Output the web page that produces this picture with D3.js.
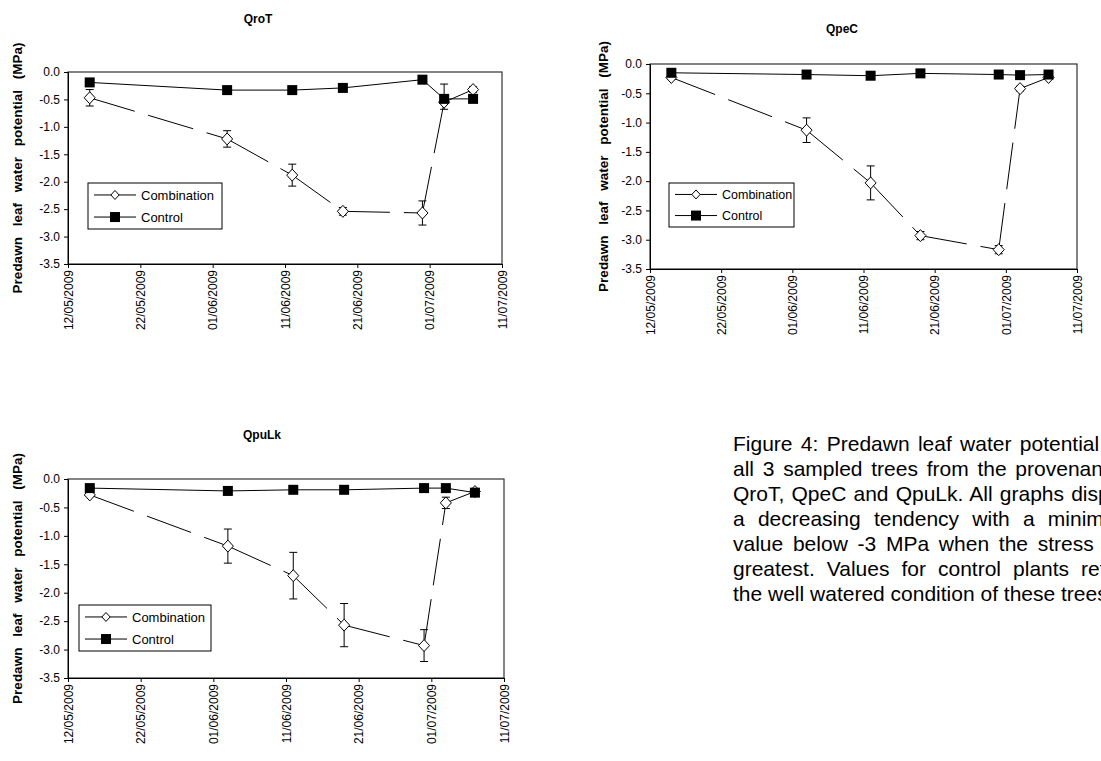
<!DOCTYPE html>
<html>
<head>
<meta charset="utf-8">
<script src="https://cdn.jsdelivr.net/npm/d3@7"></script>
<style>
  html, body { margin: 0; padding: 0; background: #fff; overflow: hidden; width: 1101px; height: 761px; }
  #wrap { position: relative; width: 1101px; height: 761px; overflow: hidden; }
  svg { position: absolute; left: 0; top: 0; }
  .cap { position: absolute; left: 733px; font-family: Arial, "Liberation Sans", sans-serif; font-size: 21px;
         line-height: 25px; white-space: nowrap; color: #000; }
</style>
</head>
<body>
<div id="wrap"></div>
<script>
// ---------------- data ----------------
const sampleDates = ["2009-05-15","2009-06-03","2009-06-12","2009-06-19","2009-06-30","2009-07-03","2009-07-07"];
const xTickDates  = ["2009-05-12","2009-05-22","2009-06-01","2009-06-11","2009-06-21","2009-07-01","2009-07-11"];
const xTickLabels = ["12/05/2009","22/05/2009","01/06/2009","11/06/2009","21/06/2009","01/07/2009","11/07/2009"];
const yTicks = [0, -0.5, -1.0, -1.5, -2.0, -2.5, -3.0, -3.5];
const seriesNames = ["Combination", "Control"];
const chartTitles = ["QroT", "QpeC", "QpuLk"];

const qrotComb        = [-0.47, -1.22, -1.88, -2.54, -2.57, -0.55, -0.32];
const qrotCombErrUp   = [0.15, 0.15, 0.20, 0.07, 0.22, 0.33, 0.05];
const qrotCombErrDown = [0.15, 0.15, 0.20, 0.07, 0.22, 0.13, 0.05];
const qrotControl     = [-0.19, -0.33, -0.33, -0.29, -0.14, -0.49, -0.49];

const qpecComb     = [-0.23, -1.13, -2.03, -2.93, -3.17, -0.42, -0.23];
const qpecCombErr  = [0.03, 0.21, 0.29, 0.07, 0.07, 0.04, 0.03];
const qpecControl  = [-0.15, -0.18, -0.20, -0.16, -0.18, -0.19, -0.18];

const qpulkComb    = [-0.28, -1.18, -1.70, -2.57, -2.93, -0.42, -0.22];
const qpulkCombErr = [0.03, 0.30, 0.41, 0.38, 0.28, 0.10, 0.03];
const qpulkControl = [-0.16, -0.21, -0.19, -0.19, -0.16, -0.16, -0.24];

const captionLines = [
  "Figure 4: Predawn leaf water potential of",
  "all 3 sampled trees from the provenances",
  "QroT, QpeC and QpuLk. All graphs display",
  "a decreasing tendency with a minimum",
  "value below -3 MPa when the stress was",
  "greatest. Values for control plants reflect",
  "the well watered condition of these trees."
];

// ---------------- layout ----------------
const parse = d3.timeParse("%Y-%m-%d");
const W = 1101, H = 761;
const FONT = "Arial, 'Liberation Sans', sans-serif";
const captionWordSpacing = [2.5, 2.9, 1.3, 7.4, 3.9, 6.2, 0];

const layouts = [
  { title: chartTitles[0], comb: qrotComb, errUp: qrotCombErrUp, errDown: qrotCombErrDown, ctrl: qrotControl,
    x0: 68, x1: 502, y0: 72, y1: 264, titleX: 258, titleY: 23, ylabX: 17,
    leg: { x: 88, y: 183, w: 134, h: 46, fs: 13 } },
  { title: chartTitles[1], comb: qpecComb, errUp: qpecCombErr, errDown: qpecCombErr, ctrl: qpecControl,
    x0: 650, x1: 1077, y0: 64, y1: 269, titleX: 842, titleY: 33, ylabX: 603,
    leg: { x: 669, y: 183, w: 125, h: 44, fs: 12.5 } },
  { title: chartTitles[2], comb: qpulkComb, errUp: qpulkCombErr, errDown: qpulkCombErr, ctrl: qpulkControl,
    x0: 68, x1: 504, y0: 479, y1: 678, titleX: 262, titleY: 439, ylabX: 17,
    leg: { x: 79, y: 605, w: 132, h: 46, fs: 13 } }
];

const svg = d3.select("#wrap").append("svg").attr("width", W).attr("height", H);

function diamond(g, cx, cy, r) {
  g.append("path")
    .attr("d", `M${cx},${cy - r}L${cx + r * 0.92},${cy}L${cx},${cy + r}L${cx - r * 0.92},${cy}Z`)
    .attr("fill", "#fff").attr("stroke", "#000").attr("stroke-width", 1);
}
function square(g, cx, cy, s) {
  g.append("rect").attr("x", cx - s / 2).attr("y", cy - s / 2).attr("width", s).attr("height", s).attr("fill", "#000");
}

layouts.forEach(L => {
  const g = svg.append("g");
  const x = d3.scaleTime().domain([parse(xTickDates[0]), parse(xTickDates[xTickDates.length - 1])]).range([L.x0, L.x1]);
  const y = d3.scaleLinear().domain([0, -3.5]).range([L.y0, L.y1]);

  // plot frame
  g.append("rect").attr("x", L.x0).attr("y", L.y0).attr("width", L.x1 - L.x0).attr("height", L.y1 - L.y0)
    .attr("fill", "none").attr("stroke", "#333").attr("stroke-width", 1.2);

  // y axis
  const ya = d3.axisLeft(y).tickValues(yTicks).tickSize(4).tickPadding(4);
  const yg = g.append("g").attr("transform", `translate(${L.x0},0)`).call(ya);
  yg.select(".domain").attr("stroke", "#000");
  yg.selectAll(".tick line").attr("stroke", "#000");
  yg.selectAll("text").attr("font-family", FONT).attr("font-size", 12).attr("fill", "#000")
    .text(d => d === 0 ? "0.0" : "-" + d3.format(".1f")(Math.abs(d)));

  // x axis
  const xa = d3.axisBottom(x).tickValues(xTickDates.map(parse)).tickSize(4).tickFormat((d, i) => xTickLabels[i]);
  const xg = g.append("g").attr("transform", `translate(0,${L.y1})`).call(xa);
  xg.select(".domain").attr("stroke", "#000");
  xg.selectAll(".tick line").attr("stroke", "#000");
  xg.selectAll("text").attr("font-family", FONT).attr("font-size", 12).attr("fill", "#000")
    .attr("transform", "rotate(-90)").attr("text-anchor", "end").attr("x", -6).attr("y", 0).attr("dy", "0.35em");

  // title
  g.append("text").attr("x", L.titleX).attr("y", L.titleY).attr("text-anchor", "middle")
    .attr("font-family", FONT).attr("font-weight", "bold").attr("font-size", 12).text(L.title);

  // y label
  g.append("text").attr("transform", `translate(${L.ylabX},${(L.y0 + L.y1) / 2}) rotate(-90)`)
    .attr("text-anchor", "middle").attr("dy", "0.35em")
    .attr("font-family", FONT).attr("font-weight", "bold").attr("font-size", 13.5).attr("word-spacing", 7)
    .text("Predawn leaf water potential (MPa)");

  const pts = sampleDates.map(parse);

  // control line
  g.append("path").datum(L.ctrl)
    .attr("d", d3.line().x((d, i) => x(pts[i])).y(d => y(d)))
    .attr("fill", "none").attr("stroke", "#000").attr("stroke-width", 1);

  // combination: dashed per segment
  for (let i = 0; i < pts.length - 1; i++) {
    g.append("line").attr("x1", x(pts[i])).attr("y1", y(L.comb[i]))
      .attr("x2", x(pts[i + 1])).attr("y2", y(L.comb[i + 1]))
      .attr("stroke", "#000").attr("stroke-width", 1).attr("stroke-dasharray", "47,14");
  }

  // error bars
  L.comb.forEach((v, i) => {
    const cx = x(pts[i]);
    const ya1 = y(v + L.errUp[i]), yb1 = y(v - L.errDown[i]);
    g.append("line").attr("x1", cx).attr("x2", cx).attr("y1", ya1).attr("y2", yb1).attr("stroke", "#000");
    [ya1, yb1].forEach(yy => g.append("line").attr("x1", cx - 4).attr("x2", cx + 4).attr("y1", yy).attr("y2", yy).attr("stroke", "#000"));
  });

  // markers
  L.comb.forEach((v, i) => diamond(g, x(pts[i]), y(v), 6));
  L.ctrl.forEach((v, i) => square(g, x(pts[i]), y(v), 10));

  // legend
  const lg = L.leg;
  g.append("rect").attr("x", lg.x).attr("y", lg.y).attr("width", lg.w).attr("height", lg.h)
    .attr("fill", "#fff").attr("stroke", "#000").attr("stroke-width", 1);
  seriesNames.forEach((nm, k) => {
    const yy = lg.y + lg.h * (k === 0 ? 0.26 : 0.74);
    g.append("line").attr("x1", lg.x + 6).attr("x2", lg.x + 48).attr("y1", yy).attr("y2", yy).attr("stroke", "#000");
    if (k === 0) diamond(g, lg.x + 27, yy, 4.5); else square(g, lg.x + 27, yy, 10);
    g.append("text").attr("x", lg.x + 53).attr("y", yy).attr("dy", "0.35em")
      .attr("font-family", FONT).attr("font-size", lg.fs).text(nm);
  });
});

// caption
const wrap = d3.select("#wrap");
captionLines.forEach((t, i) => {
  wrap.append("div").attr("class", "cap")
    .style("top", (431 + i * 25) + "px")
    .style("word-spacing", captionWordSpacing[i] + "px")
    .text(t);
});
</script>
</body>
</html>
